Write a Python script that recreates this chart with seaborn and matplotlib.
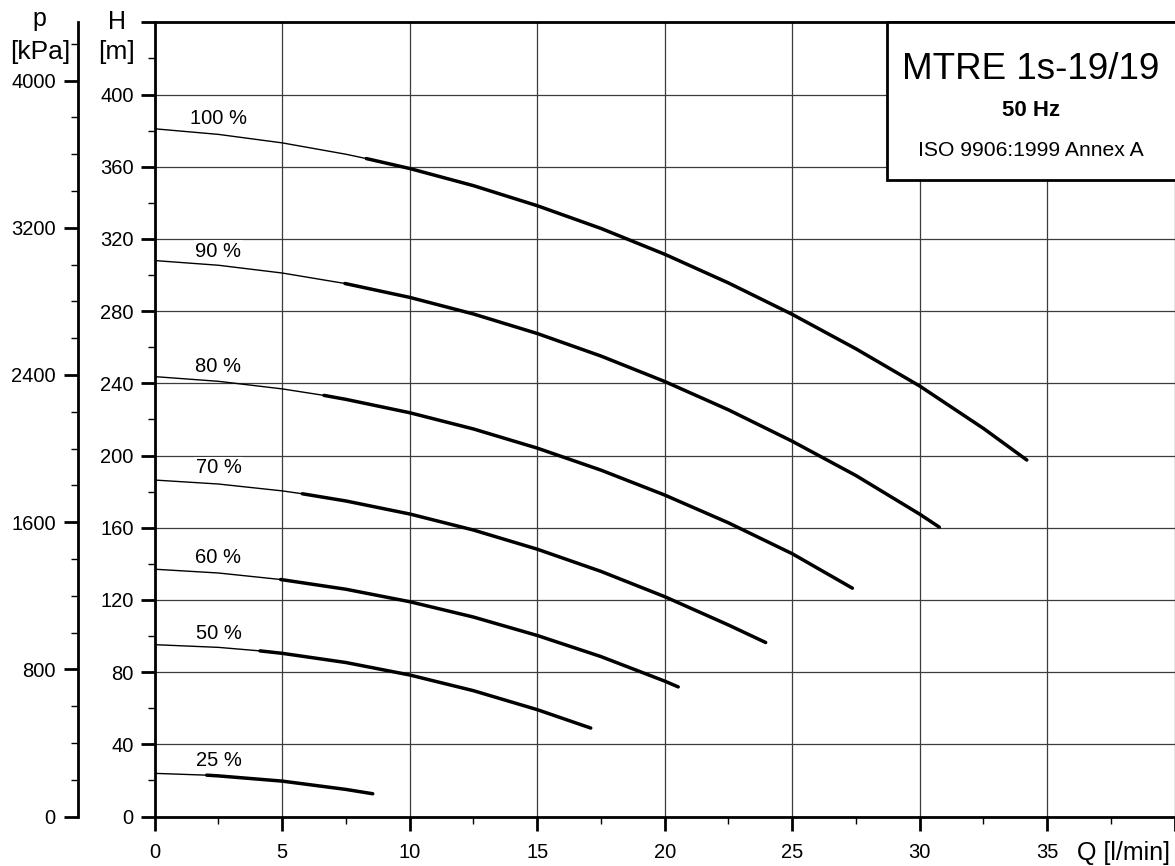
# Pump performance curves - MTRE 1s-19/19
import numpy as np
import pandas as pd
import matplotlib
matplotlib.use("Agg")
import matplotlib.pyplot as plt
from matplotlib.patches import Rectangle
from matplotlib.ticker import MultipleLocator
import seaborn as sns

# curve data: flow Q [l/min] and head H [m]
speeds = ["100 %", "90 %", "80 %", "70 %", "60 %", "50 %", "25 %"]

q_100 = [0, 2.5, 5, 7.5, 8.3, 10, 12.5, 15, 17.5, 20, 22.5, 25, 27.5, 30, 32.5, 34.2]
h_100 = [381, 377.9, 373.2, 366.9, 364.5, 359, 349.5, 338.4, 325.8, 311.5, 295.6, 278.2, 259.1, 238.5, 215.0, 197.5]

q_90 = [0, 2.5, 5, 7.46, 10, 12.5, 15, 17.5, 20, 22.5, 25, 27.5, 30, 30.77]
h_90 = [308, 305.4, 301.1, 295.3, 287.6, 278.4, 267.6, 255.1, 241, 225.3, 207.9, 188.9, 167.5, 160.3]

q_80 = [0, 2.5, 5, 6.64, 7.5, 10, 12.5, 15, 17.5, 20, 22.5, 25, 27.36]
h_80 = [243.7, 241.1, 236.9, 233.3, 231.1, 223.7, 214.7, 204.1, 191.9, 178.1, 162.7, 145.6, 126.5]

q_70 = [0, 2.5, 5, 5.79, 7.5, 10, 12.5, 15, 17.5, 20, 22.5, 23.96]
h_70 = [186.4, 184.2, 180.4, 178.8, 174.8, 167.6, 158.7, 148.1, 135.8, 121.8, 106.1, 96.4]

q_60 = [0, 2.5, 4.94, 7.5, 10, 12.5, 15, 17.5, 20, 20.53]
h_60 = [137, 134.9, 131.3, 125.9, 119, 110.5, 100.3, 88.6, 75.0, 71.8]

q_50 = [0, 2.5, 4.13, 5, 7.5, 10, 12.5, 15, 17.1]
h_50 = [95.2, 93.7, 91.75, 90.4, 85.3, 78.4, 69.7, 59.2, 49.0]

q_25 = [0, 2.04, 2.5, 5, 7.5, 8.55]
h_25 = [23.9, 22.9, 22.5, 19.6, 15.0, 12.6]

# where the thin (extrapolated) part turns into the thick part
thick_from = [8.3, 7.46, 6.64, 5.79, 4.94, 4.13, 2.04]
# curve label heights (text baseline, m)
label_h = [383.6, 310.1, 246.1, 190.1, 140.3, 98.3, 28.1]

curves = [(q_100, h_100), (q_90, h_90), (q_80, h_80), (q_70, h_70),
          (q_60, h_60), (q_50, h_50), (q_25, h_25)]

G = 9.81  # kPa per metre of water

sns.set_style("white", {"axes.edgecolor": "black", "text.color": "black",
                        "xtick.color": "black", "ytick.color": "black",
                        "xtick.bottom": True, "ytick.left": True,
                        "xtick.direction": "out", "ytick.direction": "out"})
plt.rcParams["font.family"] = ["Liberation Sans", "DejaVu Sans"]

W, H = 1175, 866
fig = plt.figure(figsize=(W / 100, H / 100), dpi=100)
x0, y0, x1, y1 = 154.7, 816.5, 1174.7, 22.3
ax = fig.add_axes([x0 / W, 1 - y0 / H, (x1 - x0) / W, (y0 - y1) / H])

for (q, h), qs in zip(curves, thick_from):
    df = pd.DataFrame({"Q": q, "H": h})
    thin = df[df["Q"] <= qs]
    thick = df[df["Q"] >= qs]
    sns.lineplot(data=thin, x="Q", y="H", ax=ax, color="black", lw=1.0,
                 sort=False, zorder=3)
    sns.lineplot(data=thick, x="Q", y="H", ax=ax, color="black", lw=2.5,
                 sort=False, zorder=3, solid_capstyle="round",
                 solid_joinstyle="round")

for name, lh in zip(speeds, label_h):
    ax.text(2.5, lh, name, ha="center", va="baseline", fontsize=14.5, zorder=4,
            bbox=dict(facecolor="white", edgecolor="none", pad=1))

ax.set_xlim(0, 40)
ax.set_ylim(0, 440)
ax.set_xlabel("")
ax.set_ylabel("")
ax.set_xticks(np.arange(0, 41, 5))
ax.set_xticklabels([str(v) for v in range(0, 40, 5)] + [""])
ax.xaxis.set_minor_locator(MultipleLocator(2.5))
ax.set_yticks(np.arange(0, 441, 40))
ax.set_yticklabels([str(v) for v in range(0, 401, 40)] + [""])
ax.yaxis.set_minor_locator(MultipleLocator(20))
ax.tick_params(which="major", length=10, width=2, labelsize=14.5, pad=5)
ax.tick_params(axis="x", which="major", pad=9)
ax.tick_params(which="minor", length=5, width=1)
ax.grid(True, which="major", color="#3c3c3c", lw=0.9)
for s in ["left", "bottom", "top"]:
    ax.spines[s].set_linewidth(2)
ax.spines["right"].set_visible(False)

# info box
ax.add_patch(Rectangle((28.72, 352.6), 12, 87.4, facecolor="white",
                       edgecolor="black", lw=2, zorder=5, clip_on=False))

# pressure axis
ax2 = ax.twinx()
ax2.set_ylim(0, 440 * G)
ax2.yaxis.tick_left()
ax2.spines["left"].set_position(("outward", (x0 - 78) * 0.72))
ax2.spines["left"].set_linewidth(2)
for s in ["right", "top", "bottom"]:
    ax2.spines[s].set_visible(False)
ax2.set_yticks(np.arange(0, 4001, 800))
ax2.yaxis.set_minor_locator(MultipleLocator(200))
ax2.tick_params(which="major", length=10, width=2, labelsize=14.5, pad=6)
ax2.tick_params(which="minor", length=5, width=1)
ax2.grid(False)

def ftext(x, y, s, **kw):
    fig.text(x / W, 1 - y / H, s, va="baseline", **kw)

ftext(117, 29.3, "H", ha="center", fontsize=18)
ftext(117, 59, "[m]", ha="center", fontsize=19)
ftext(39, 26, "p", ha="center", fontsize=18)
ftext(40, 59, "[kPa]", ha="center", fontsize=19)
ftext(1077, 860, "Q [l/min]", ha="left", fontsize=18)

ftext(1031, 79, "MTRE 1s-19/19", ha="center", fontsize=26.5)
ftext(1031, 115.7, "50 Hz", ha="center", fontsize=16, fontweight="bold")
ftext(1031, 155.7, "ISO 9906:1999 Annex A", ha="center", fontsize=15.2)

fig.savefig("out.png", dpi=100)
